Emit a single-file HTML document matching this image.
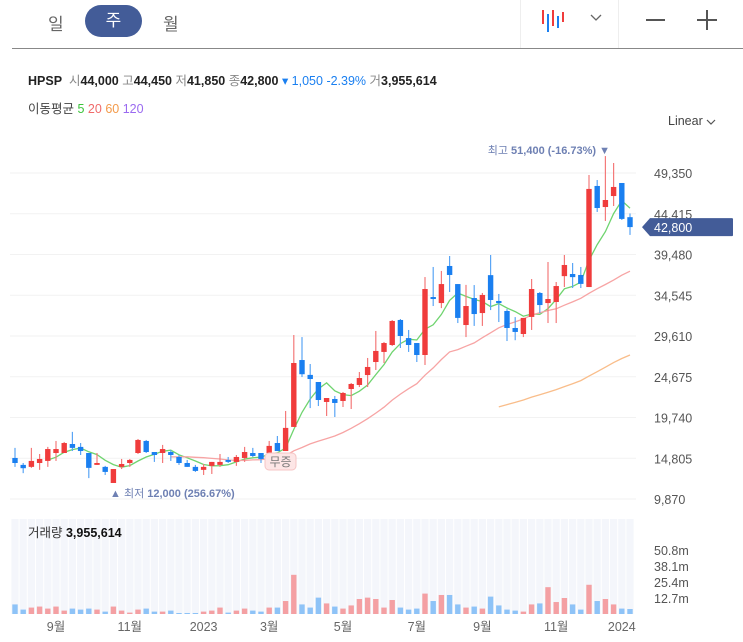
<!DOCTYPE html>
<html><head><meta charset="utf-8">
<style>
body{margin:0;width:743px;height:642px;overflow:hidden;background:#fff;font-family:"Liberation Sans","Noto Sans CJK KR",sans-serif;}
#wrap{position:relative;width:743px;height:642px;}
.abs{position:absolute;}
</style></head>
<body>
<div id="wrap">
  <div class="abs" style="left:0;top:0;width:743px;height:48px;">
    <div class="abs" style="left:48px;top:10px;font-size:17px;color:#666;">일</div>
    <div class="abs" style="left:85px;top:5px;width:57px;height:32px;border-radius:16px;background:#435c98;color:#fff;font-size:17px;text-align:center;line-height:32px;">주</div>
    <div class="abs" style="left:163px;top:10px;font-size:17px;color:#666;">월</div>
    <div class="abs" style="left:520px;top:0;width:1px;height:48px;background:#eee;"></div>
    <div class="abs" style="left:618px;top:0;width:1px;height:48px;background:#eee;"></div>
    <svg class="abs" style="left:538px;top:8px" width="32" height="26">
      <line x1="5" y1="2" x2="5" y2="16" stroke="#f03c3c" stroke-width="2"/>
      <line x1="10" y1="6" x2="10" y2="24" stroke="#1a7ff0" stroke-width="2"/>
      <line x1="15" y1="2" x2="15" y2="18" stroke="#f03c3c" stroke-width="2"/>
      <line x1="20" y1="8" x2="20" y2="20" stroke="#1a7ff0" stroke-width="2"/>
      <line x1="25" y1="4" x2="25" y2="14" stroke="#f03c3c" stroke-width="2"/>
    </svg>
    <svg class="abs" style="left:590px;top:14px" width="12" height="8"><polyline points="1,1 6,6 11,1" fill="none" stroke="#666" stroke-width="1.3"/></svg>
    <div class="abs" style="left:646px;top:19px;width:19px;height:2px;background:#555;"></div>
    <div class="abs" style="left:697px;top:10px;width:20px;height:20px;">
      <div class="abs" style="left:0;top:9px;width:20px;height:2px;background:#555;"></div>
      <div class="abs" style="left:9px;top:0;width:2px;height:20px;background:#555;"></div>
    </div>
    <div class="abs" style="left:12px;top:48px;width:731px;height:1px;background:#888;"></div>
  </div>
  <div class="abs" style="left:28px;top:70px;font-size:12.5px;color:#222;white-space:nowrap;">
    <b>HPSP</b>&nbsp; <span style="color:#888">시</span><b>44,000</b> <span style="color:#888">고</span><b>44,450</b> <span style="color:#888">저</span><b>41,850</b> <span style="color:#888">종</span><b>42,800</b> <span style="color:#1a7ff0">▾ 1,050 -2.39%</span> <span style="color:#888">거</span><b>3,955,614</b>
  </div>
  <div class="abs" style="left:28px;top:98px;font-size:12.5px;color:#444;">이동평균 <span style="color:#3bc43b">5</span> <span style="color:#f06a6a">20</span> <span style="color:#f39a4a">60</span> <span style="color:#9a6af0">120</span></div>
  <div class="abs" style="left:668px;top:114px;font-size:12.5px;color:#444;">Linear <svg width="10" height="6"><polyline points="1,1 5,5 9,1" fill="none" stroke="#555" stroke-width="1.2"/></svg></div>
  <svg id="chart" class="abs" style="left:0;top:0" width="743" height="642"></svg>
</div>
<script>
const opens=[14840,14000,13760,14230,14480,15440,15440,16530,16180,15440,14000,13760,11810,13760,14230,15440,16900,15560,15440,15560,14960,14230,13760,13400,13880,14000,14600,14360,14840,15440,15440,15440,16650,15680,18600,26700,24900,24040,21620,21980,21740,23190,23680,24880,26460,27680,28520,31550,29360,28760,27310,34330,33600,38090,35900,30940,34210,32390,36980,33850,32640,30580,29850,31920,34820,33600,33730,36860,37120,37000,35540,47780,45230,46560,48140,44000];
const closes=[14230,13600,14480,14720,15920,15920,16650,16060,15680,13640,14230,13150,13500,14110,14600,17020,15560,15200,15920,15200,14230,13760,13270,13760,14360,14360,14360,14960,15560,15080,14720,16300,15680,18480,26340,24980,24400,21860,22100,21500,22710,23800,24520,25860,27800,28760,31430,29610,28520,27310,35300,34090,35900,37000,31800,33240,32270,34580,33970,33600,30580,30100,31800,35300,33360,34090,35660,38210,36740,35920,47420,45110,46080,47660,43790,42800];
const highs=[16060,14230,16060,15320,16180,16900,16780,18000,16650,15440,15440,13880,13500,14720,14720,17140,17020,15560,16420,15800,15200,14600,14000,14110,14360,15320,14960,15200,16180,16060,15440,16900,17500,20530,29730,29480,26220,24040,22100,22350,22830,23920,25250,26950,30220,28890,31550,31670,30340,28760,36750,37970,37490,39300,35900,35800,35780,34820,39420,34700,32870,31900,31800,36510,34940,38570,36150,39420,38450,37970,49110,48500,51400,50560,48140,44450];
const lows=[13760,13000,13640,13400,13760,14480,15440,15680,15200,12400,14000,12780,12000,13500,13760,15320,15440,14360,14230,14480,14000,13760,13150,12780,12900,13760,14230,13880,14360,14960,14230,15440,15680,15680,18600,24640,20880,21130,19920,19800,21010,20770,23430,23430,25490,26340,28400,28160,27680,26460,26100,33240,32990,34940,31180,29480,30830,30830,32750,31300,29000,29100,29480,30340,32390,31180,31180,35540,35420,35420,35540,44630,43540,45350,43660,41850];
const volumes=[7.6,3.5,5.1,5.9,4.3,5.9,2.7,4.3,3.5,4.3,3.5,1.9,5.9,2.7,1.1,3.5,4.3,1.9,1.9,2.7,0.8,0.8,0.8,1.9,2.7,5.1,1.1,2.7,4.3,2.7,1.9,5.1,5.1,10.3,31.1,7.6,5.1,13.0,8.4,5.9,4.3,6.8,11.9,13.0,11.9,5.1,11.1,5.1,3.5,4.3,16.2,10.3,15.1,15.1,7.6,5.1,5.9,4.3,13.8,6.8,3.5,2.7,1.9,7.6,8.4,21.3,9.5,12.7,7.6,3.5,23.2,10.3,11.9,7.6,4.3,3.96];
const priceTicks=[49350,44415,39480,34545,29610,24675,19740,14805,9870];
const priceTickLabels=["49,350","44,415","39,480","34,545","29,610","24,675","19,740","14,805","9,870"];
const volTicks=[50.8,38.1,25.4,12.7];
const volTickLabels=["50.8m","38.1m","25.4m","12.7m"];
const monthIdx=[5,14,23,31,40,49,57,66,74];
const monthLabels=["9월","11월","2023","3월","5월","7월","9월","11월","2024"];
const maPeriods=[5,20,60];
const maColors=["#6fd46f","#f7a4a4","#f9bd8a"];

const svg=document.getElementById('chart');
const NS='http://www.w3.org/2000/svg';
const xS=i=>15+i*8.2;
const yS=v=>173+(49350-v)*326/39480;
const vBase=614, vS=v=>vBase-v*16/12.7;
function mk(tag,attrs){const e=document.createElementNS(NS,tag);for(const k in attrs)e.setAttribute(k,attrs[k]);svg.appendChild(e);return e;}
function txt(x,y,s,attrs){const e=mk('text',Object.assign({x:x,y:y},attrs));e.textContent=s;return e;}

priceTicks.forEach((t,k)=>{
  const g=mk('line',{x1:10,x2:636,y1:yS(t),y2:yS(t),stroke:'#f2f2f2','stroke-width':1});
  
  
  const l=txt(654,yS(t)+5,priceTickLabels[k],{'font-size':12.5,fill:'#555'});
  
  
});
for(let i=0;i<closes.length;i++){
  const r=mk('rect',{x:xS(i)-3.6,y:519,width:7.2,height:vBase-519,fill:'#f4f6fb'});
  
  
}
maPeriods.forEach((p,k)=>{
  let pts=[];
  for(let i=p-1;i<closes.length;i++){let s=0;for(let j=i-p+1;j<=i;j++)s+=closes[j];pts.push(xS(i).toFixed(1)+','+yS(s/p).toFixed(1));}
  const pl=mk('polyline',{points:pts.join(' '),fill:'none',stroke:maColors[k],'stroke-width':1.3});
  
  
});
for(let i=0;i<closes.length;i++){
  const up=closes[i]>=opens[i];
  const c=up?'#f03c3c':'#1a7ff0';
  const w=mk('line',{x1:xS(i),x2:xS(i),y1:yS(highs[i]),y2:yS(lows[i]),stroke:up?'#f47a7a':'#5aa5f5','stroke-width':1.2});
  
  
  const t=yS(Math.max(opens[i],closes[i])),b=yS(Math.min(opens[i],closes[i]));
  const r=mk('rect',{x:xS(i)-2.7,y:t,width:5.4,height:Math.max(1.5,b-t),fill:c});
  
  
  const v=mk('rect',{x:xS(i)-2.7,y:vS(volumes[i]),width:5.4,height:vBase-vS(volumes[i]),fill:up?'#f4a0a3':'#8ec3f7'});
  
  
}
volTicks.forEach((t,k)=>{
  const l=txt(654,vS(t)+5,volTickLabels[k],{'font-size':12.5,fill:'#555'});
  
  
});
monthIdx.forEach((m,k)=>{
  const l=txt(xS(m),631,monthLabels[k],{'font-size':12.5,fill:'#666','text-anchor':'middle'});
  
  
});
const vt=txt(28,537,'',{'font-size':12.5,fill:'#333'});
vt.innerHTML='거래량 <tspan font-weight="bold" fill="#111">3,955,614</tspan>';


const mx=txt(610,154,'',{'font-size':11,fill:'#6e80b3','text-anchor':'end'});
mx.innerHTML='최고 <tspan font-weight="bold">51,400 (-16.73%)</tspan> ▼';


const mn=txt(110,497,'',{'font-size':11,fill:'#6e80b3'});
mn.innerHTML='▲ 최저 <tspan font-weight="bold">12,000 (256.67%)</tspan>';


const bm=mk('rect',{x:265,y:453,width:31,height:17,rx:4,fill:'#fde6e6',stroke:'#f5c4c4'});


const bt=txt(280.5,466,'무증',{'font-size':12,fill:'#777','text-anchor':'middle'});


const cy=yS(closes[closes.length-1]);
const tag=mk('path',{d:`M642 ${cy} L650 ${cy-9} L732 ${cy-9} Q733 ${cy-9} 733 ${cy-8} L733 ${cy+8} Q733 ${cy+9} 732 ${cy+9} L650 ${cy+9} Z`,fill:'#435c98'});


const tt=txt(654,cy+5,'42,800',{'font-size':12.5,fill:'#fff'});


</script>
</body></html>
